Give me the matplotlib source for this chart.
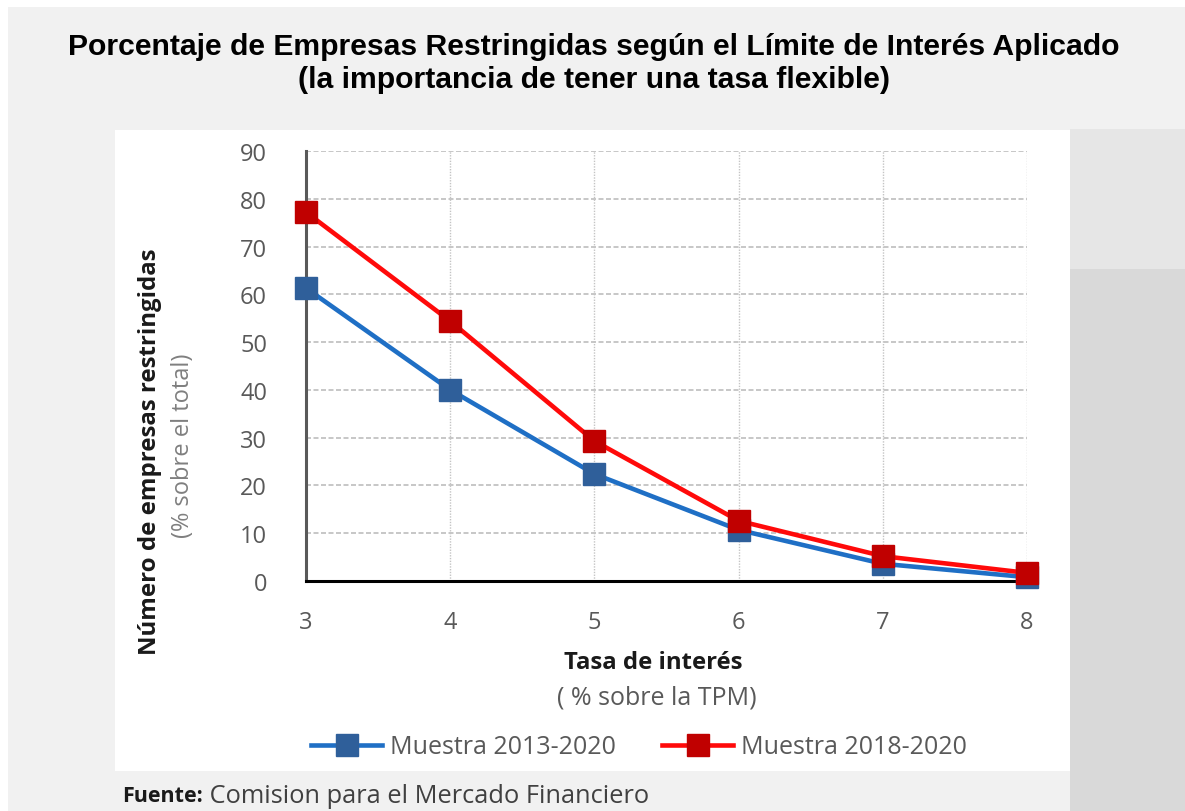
import matplotlib

matplotlib.use("Agg")
import matplotlib.pyplot as plt
from matplotlib.patches import Rectangle

# data
tasa = [3, 4, 5, 6, 7, 8]
muestra_2013_2020 = [61.3, 40.0, 22.4, 10.7, 3.6, 0.8]
muestra_2018_2020 = [77.2, 54.4, 29.3, 12.6, 5.2, 1.7]
y_ticks = [0, 10, 20, 30, 40, 50, 60, 70, 80, 90]

W, H = 1185, 812
fig = plt.figure(figsize=(W / 100, H / 100), dpi=100, facecolor="#f1f1f1")


def box(x0, y0, x1, y1, color):
    # rectangle in pixel coords (origin top-left)
    fig.patches.append(Rectangle((x0 / W, 1 - y1 / H), (x1 - x0) / W, (y1 - y0) / H,
                                 transform=fig.transFigure, color=color, zorder=-5, lw=0))


# background decoration
box(0, 0, W, 8, "white")
box(0, 0, 8, H, "white")
box(1070, 130, W, 270, "#e6e6e6")
box(1070, 270, W, H, "#d9d9d9")
box(115, 131, 1070, 772, "white")

ax = fig.add_axes([306 / W, 1 - 582 / H, (1027 - 306) / W, (582 - 152) / H])
ax.set_facecolor("none")

ax.plot(tasa, muestra_2013_2020, color="#1f6fc5", lw=3.3, marker="s", ms=16.5,
        mfc="#2f5f9a", mec="#2f5f9a", clip_on=False, zorder=4, label="Muestra 2013-2020")
ax.plot(tasa, muestra_2018_2020, color="#ff0a0a", lw=3.3, marker="s", ms=16.5,
        mfc="#c00000", mec="#c00000", clip_on=False, zorder=5, label="Muestra 2018-2020")

ax.set_xlim(3, 8)
ax.set_ylim(0, 90)
ax.set_xticks(tasa)
ax.set_yticks(y_ticks)
ax.tick_params(length=0, labelsize=17, labelcolor="#595959")
for lab in ax.get_xticklabels() + ax.get_yticklabels():
    lab.set_fontfamily("Open Sans")
ax.tick_params(axis="x", pad=21)
ax.tick_params(axis="y", pad=28)

for y in y_ticks[1:]:
    ax.axhline(y, color="#bdbdbd", lw=1.2, ls=(0, (3, 1.5)), zorder=1)
for x in tasa[1:]:
    ax.axvline(x, color="#c4c4c4", lw=1, ls=(0, (1, 1)), zorder=1)

for s in ["top", "right"]:
    ax.spines[s].set_visible(False)
ax.spines["left"].set_color("#595959")
ax.spines["left"].set_linewidth(2.2)
ax.spines["bottom"].set_color("black")
ax.spines["bottom"].set_linewidth(2.2)
ax.spines["left"].set_zorder(3)
ax.spines["bottom"].set_zorder(3)

# titles and labels
fig.text(594 / W, 1 - 47 / H, "Porcentaje de Empresas Restringidas según el Límite de Interés Aplicado",
         ha="center", va="center", fontsize=21.7, fontweight="bold", family="Liberation Sans")
fig.text(594 / W, 1 - 80 / H, "(la importancia de tener una tasa flexible)",
         ha="center", va="center", fontsize=21.7, fontweight="bold", family="Liberation Sans")

fig.text(150 / W, 1 - 452 / H, "Número de empresas restringidas", rotation=90,
         ha="center", va="center", fontsize=17.3, fontweight="bold", family="Open Sans", color="#1a1a1a")
fig.text(183 / W, 1 - 446 / H, "(% sobre el total)", rotation=90,
         ha="center", va="center", fontsize=17, family="Open Sans", color="#7f7f7f")

fig.text(653 / W, 1 - 663 / H, "Tasa de interés", ha="center", va="center",
         fontsize=17.2, fontweight="bold", family="Open Sans", color="#1a1a1a")
fig.text(657 / W, 1 - 698 / H, "( % sobre la TPM)", ha="center", va="center",
         fontsize=18, family="Open Sans", color="#595959")

leg = fig.legend(loc="center", bbox_to_anchor=(639 / W, 1 - 748 / H), ncol=2, frameon=False,
                 handlelength=2.85, handletextpad=0.32, columnspacing=1.84,
                 prop={"family": "Open Sans", "size": 18})
for t in leg.get_texts():
    t.set_color("#595959")

# source line: bold label followed by the regular text
fuente = fig.text(122 / W, 1 - 797 / H, "Fuente:", ha="left", va="center", fontsize=15.5,
                  fontweight="bold", family="Open Sans", color="#1a1a1a")
ax.annotate(" Comision para el Mercado Financiero", xy=(1, 0.5), xycoords=fuente,
            ha="left", va="center", fontsize=18.3, family="Open Sans", color="#404040",
            annotation_clip=False)

fig.savefig("out.png", dpi=100, facecolor=fig.get_facecolor())
